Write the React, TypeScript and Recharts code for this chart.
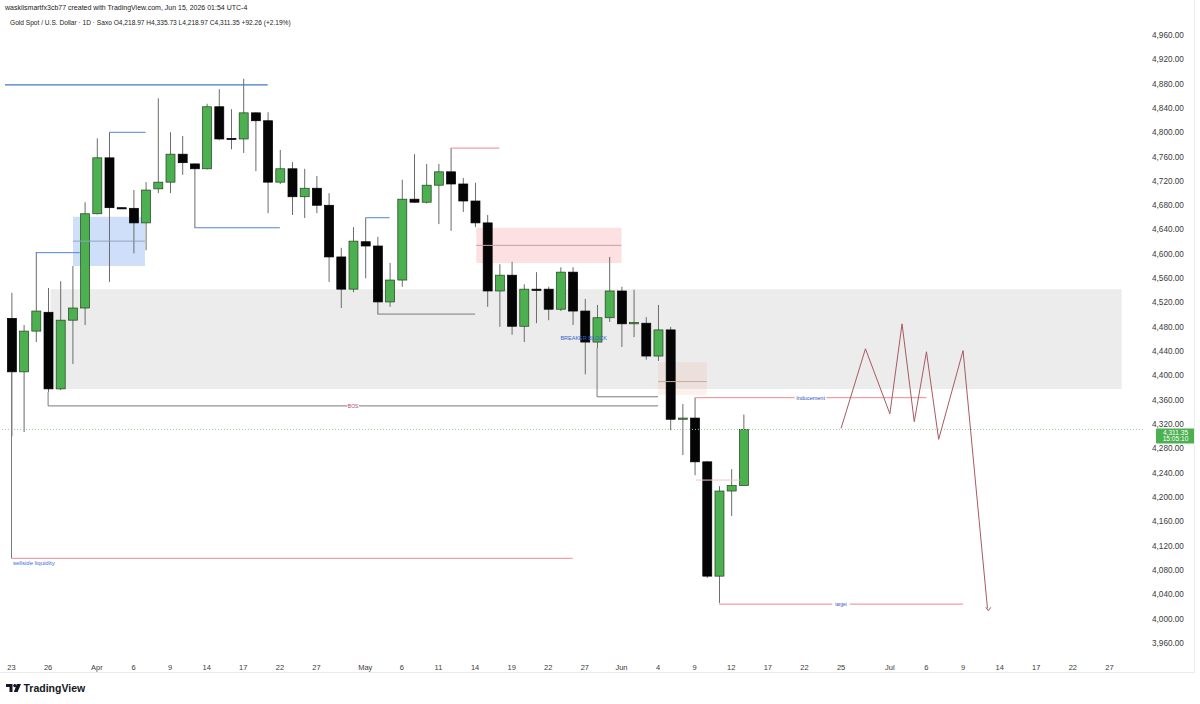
import React from 'react';
import { ComposedChart, Bar, Line, XAxis, YAxis, ReferenceArea, ReferenceLine, ReferenceDot } from 'recharts';

// Daily candles, index 0 = Mar 23 2026 (trading days)
const opens = [4494, 4406, 4473, 4504, 4378, 4491, 4511, 4666, 4758, 4676, 4675, 4651, 4707, 4718, 4764, 4748, 4740, 4842, 4790, 4789, 4832, 4819, 4718, 4740, 4694, 4708, 4680, 4595, 4542, 4620, 4613, 4521, 4557, 4690, 4685, 4713, 4735, 4715, 4687, 4651, 4539, 4565, 4481, 4542, 4542, 4509, 4570, 4506, 4455, 4495, 4539, 4485, 4486, 4432, 4475, 4328, 4330, 4258, 4070, 4210, 4218.97];
const highs = [4536, 4483, 4603, 4544, 4555, 4580, 4685, 4790, 4800, 4677, 4705, 4718, 4856, 4800, 4794, 4749, 4847, 4871, 4838, 4888, 4833, 4833, 4771, 4751, 4740, 4728, 4700, 4610, 4644, 4659, 4628, 4585, 4722, 4764, 4748, 4748, 4774, 4725, 4717, 4664, 4583, 4587, 4550, 4570, 4546, 4578, 4578, 4526, 4516, 4595, 4546, 4541, 4496, 4516, 4480, 4353, 4363, 4259, 4218, 4246, 4335.73];
const lows = [4300, 4307, 4455, 4373, 4376, 4419, 4483, 4665, 4554, 4674, 4601, 4606, 4700, 4700, 4730, 4643, 4739, 4787, 4772, 4766, 4736, 4667, 4715, 4664, 4659, 4667, 4554, 4511, 4537, 4560, 4501, 4513, 4546, 4684, 4683, 4649, 4638, 4669, 4644, 4513, 4480, 4467, 4455, 4486, 4491, 4506, 4483, 4402, 4445, 4488, 4447, 4463, 4426, 4424, 4310, 4269, 4236, 4067, 4026, 4169, 4218.97];
const closes = [4406, 4473, 4506, 4378, 4491, 4511, 4666, 4758, 4676, 4675, 4651, 4705, 4718, 4764, 4750, 4740, 4842, 4789, 4789, 4832, 4819, 4718, 4740, 4694, 4708, 4680, 4595, 4542, 4621, 4613, 4521, 4557, 4690, 4685, 4713, 4735, 4715, 4687, 4651, 4539, 4565, 4481, 4542, 4541, 4509, 4570, 4506, 4455, 4495, 4539, 4485, 4487, 4432, 4475, 4328, 4330, 4258, 4070, 4210, 4219, 4311.35];

const xTickIdx = [0, 3, 7, 10, 13, 16, 19, 22, 25, 29, 32, 35, 38, 41, 44, 47, 50, 53, 56, 59, 62, 65, 68, 72, 75, 78, 81, 84, 87, 90];
const xTickLabels = ['23', '26', 'Apr', '6', '9', '14', '17', '22', '27', 'May', '6', '11', '14', '19', '22', '27', 'Jun', '4', '9', '12', '17', '22', '25', 'Jul', '6', '9', '14', '17', '22', '27'];
const priceTicks = [3960, 4000, 4040, 4080, 4120, 4160, 4200, 4240, 4280, 4320, 4360, 4400, 4440, 4480, 4520, 4560, 4600, 4640, 4680, 4720, 4760, 4800, 4840, 4880, 4920, 4960];

// projected path
const projIdx = [68, 70, 72, 73, 74, 75, 76, 78, 80];
const projPrice = [4313, 4444, 4337, 4485, 4324, 4439, 4295, 4441, 4017];

const lastPrice = 4311.35;
const countdown = '15:05:10';

const candles = opens.map((o, i) => ({ i, range: [lows[i], highs[i]], o, h: highs[i], l: lows[i], c: closes[i] }));
const projData = projIdx.map((i, k) => ({ i, p: projPrice[k] }));
const tickLabelMap: Record<number, string> = {};
xTickIdx.forEach((v, k) => { tickLabelMap[v] = xTickLabels[k]; });

const FONT = '"Liberation Sans", Arial, sans-serif';
const BLUE = '#4f86d3';
const RED = '#f0868f';
const GREY = '#7b7b7b';

const Candle = (props: any) => {
  const { x, y, width, height, payload } = props;
  const { o, h, l, c } = payload;
  const top = Math.min(y, y + height);
  const hh = Math.abs(height);
  const span = h - l;
  const k = span > 0 ? hh / span : 0;
  const cx = x + width / 2;
  const yo = top + (h - o) * k;
  const yc = top + (h - c) * k;
  const up = c >= o;
  const bt = Math.min(yo, yc);
  const bh = Math.max(Math.abs(yc - yo), 1.2);
  return (
    <g>
      <line x1={cx} x2={cx} y1={top} y2={top + hh} stroke="#6b6b6b" strokeWidth={1} />
      <rect x={x} y={bt} width={width} height={bh} fill={up ? '#4caf50' : '#050505'} stroke={up ? '#24401f' : '#000'} strokeWidth={0.7} />
    </g>
  );
};

const textShape = (txt: string, color: string, size: number, anchor: string = 'middle', bg: boolean = false) => (p: any) => {
  const w = txt.length * size * 0.5;
  const bx = anchor === 'middle' ? p.cx - w / 2 - 2 : p.cx - 1;
  return (
    <g>
      {bg && <rect x={bx} y={p.cy - size / 2 - 1} width={w + 4} height={size + 2} fill="#fff" />}
      <text x={p.cx} y={p.cy} dy={size * 0.35} textAnchor={anchor} fontSize={size} fill={color} fontFamily={FONT}>{txt}</text>
    </g>
  );
};

const arrowShape = (p: any) => (
  <path d={`M${p.cx - 2.5},${p.cy - 3.5} L${p.cx},${p.cy} L${p.cx + 2.5},${p.cy - 3.5}`} stroke="#a85a62" fill="none" strokeWidth={1} />
);

const PriceTag = (props: any) => {
  const vb = props.viewBox || {};
  const x0 = (vb.x || 0) + (vb.width || 0) + 13;
  const y0 = vb.y || 0;
  return (
    <g>
      <rect x={x0} y={y0 - 1} width={39} height={15} fill="#4caf50" rx={1} />
      <text x={x0 + 19.5} y={y0 + 5.3} textAnchor="middle" fontSize={6.6} fill="#fff" fontFamily={FONT}>{lastPrice.toLocaleString('en-US', { minimumFractionDigits: 2 })}</text>
      <text x={x0 + 19.5} y={y0 + 12} textAnchor="middle" fontSize={6.6} fill="#fff" fontFamily={FONT}>{countdown}</text>
    </g>
  );
};

const seg = (x1: number, y1: number, x2: number, y2: number) => [{ x: x1, y: y1 }, { x: x2, y: y2 }];

export default function App() {
  return (
    <div style={{ position: 'absolute', left: 0, top: 0, width: 1200, height: 704, background: '#fff', overflow: 'hidden' }}>
      <ComposedChart width={1200} height={704} data={candles} margin={{ top: 0, right: 0, left: 0, bottom: 32 }}>
        <XAxis dataKey="i" type="number" domain={[-0.943, 92.75]} allowDataOverflow ticks={xTickIdx} interval={0}
          tickFormatter={(v: number) => tickLabelMap[v] ?? ''} height={17} axisLine={false} tickLine={false}
          tick={{ fontSize: 7.5, fill: '#3a3a3a', fontFamily: FONT }} tickMargin={4} />
        <YAxis orientation="right" type="number" domain={[3940.3, 5017.6]} allowDataOverflow ticks={priceTicks} interval={0}
          width={57} axisLine={false} tickLine={false} tickSize={0} tickMargin={9}
          tickFormatter={(v: number) => v.toLocaleString('en-US', { minimumFractionDigits: 2 })}
          tick={{ fontSize: 8.2, fill: '#3a3a3a', fontFamily: FONT }} />

        {/* zones */}
        <ReferenceArea x1={3.2} x2={91} y1={4378} y2={4542} fill="#ececec" fillOpacity={1} stroke="none" />
        <ReferenceArea x1={5.04} x2={10.94} y1={4580} y2={4661} fill="#cfdff9" fillOpacity={1} stroke="none" />
        <ReferenceArea x1={38.1} x2={50} y1={4585} y2={4643} fill="#fde0e2" fillOpacity={1} stroke="none" />
        <ReferenceArea x1={53} x2={57} y1={4368} y2={4422} fill="rgba(240,120,90,0.1)" fillOpacity={1} stroke="none" />
        <ReferenceLine segment={seg(5.04, 4621, 10.94, 4621)} stroke="#8ea3c2" strokeWidth={1} />
        <ReferenceLine segment={seg(38.1, 4614, 50, 4614)} stroke="#c9a0a4" strokeWidth={1} />
        <ReferenceLine segment={seg(53, 4390, 57, 4390)} stroke="#c4aaa0" strokeWidth={1} />

        {/* current price dotted */}
        <ReferenceLine y={lastPrice} stroke="#9ccc9c" strokeDasharray="1 2" strokeWidth={1} label={<PriceTag />} />

        {/* structure lines */}
        <ReferenceLine segment={seg(-0.53, 4878, 21, 4878)} stroke="#3f78c6" strokeWidth={1.2} />
        <ReferenceLine segment={seg(8, 4800, 11, 4800)} stroke={BLUE} strokeWidth={1} />
        <ReferenceLine segment={seg(2, 4602, 5.6, 4602)} stroke={BLUE} strokeWidth={1} />
        <ReferenceLine segment={seg(15, 4643, 22, 4643)} stroke={BLUE} strokeWidth={1} />
        <ReferenceLine segment={seg(29, 4659.5, 31, 4659.5)} stroke={BLUE} strokeWidth={1} />
        <ReferenceLine segment={seg(36, 4774, 40, 4774)} stroke={RED} strokeWidth={1} />
        <ReferenceLine segment={seg(30, 4501, 38, 4501)} stroke={GREY} strokeWidth={1} />
        <ReferenceLine segment={seg(3, 4373, 3, 4350)} stroke={GREY} strokeWidth={1} />
        <ReferenceLine segment={seg(3, 4350, 53, 4350)} stroke={GREY} strokeWidth={1} />
        <ReferenceLine segment={seg(48, 4445, 48, 4365)} stroke={GREY} strokeWidth={1} />
        <ReferenceLine segment={seg(48, 4365, 53, 4365)} stroke={GREY} strokeWidth={1} />
        <ReferenceLine segment={seg(0, 4406, 0, 4099.3)} stroke={GREY} strokeWidth={1} />
        <ReferenceLine segment={seg(0, 4099.3, 46, 4099.3)} stroke={RED} strokeWidth={1} />
        <ReferenceLine segment={seg(56, 4363.5, 75, 4363.5)} stroke={RED} strokeWidth={1} />
        <ReferenceLine segment={seg(58, 4024, 78, 4024)} stroke={RED} strokeWidth={1} />
        <ReferenceLine segment={seg(56.1, 4228, 59.7, 4228)} stroke="#f6c3c7" strokeWidth={1} />

        <ReferenceDot x={46.9} y={4461.6} r={1} shape={textShape('BREAKER BLOCK', '#2f5fd0', 5.5)} />

        <Bar dataKey="range" barSize={9} shape={<Candle />} isAnimationActive={false} />

        <Line data={projData} dataKey="p" stroke="#a85a62" strokeWidth={1} dot={false} activeDot={false} isAnimationActive={false} type="linear" />
        <ReferenceDot x={80.07} y={4013} r={1} shape={arrowShape} />

        <ReferenceDot x={28} y={4350} r={1} shape={textShape('BOS', '#b04a5a', 5, 'middle', true)} />
        <ReferenceDot x={65.5} y={4363.5} r={1} shape={textShape('Inducement', '#2f4fc0', 5.5, 'middle', true)} />
        <ReferenceDot x={68} y={4024} r={1} shape={textShape('target', '#2f4fc0', 4.5, 'middle', true)} />
        <ReferenceDot x={0.12} y={4091.6} r={1} shape={textShape('sellside liquidity', '#3b6fe0', 6, 'start')} />
      </ComposedChart>

      <div style={{ position: 'absolute', left: 5, top: 4, fontFamily: FONT, fontSize: 7, color: '#222', whiteSpace: 'pre' }}>
        waskiismartfx3cb77 created with TradingView.com, Jun 15, 2026 01:54 UTC-4
      </div>
      <div style={{ position: 'absolute', left: 10, top: 19, fontFamily: FONT, fontSize: 6.6, color: '#222', whiteSpace: 'pre' }}>
        {'Gold Spot / U.S. Dollar · 1D · Saxo O4,218.97 H4,335.73 L4,218.97 C4,311.35 +92.26 (+2.19%)'}
      </div>
      <div style={{ position: 'absolute', left: 1194, top: 0, width: 1, height: 672, background: '#ececec' }} />
      <div style={{ position: 'absolute', left: 0, top: 672, width: 1195, height: 1, background: '#ececec' }} />
      <svg style={{ position: 'absolute', left: 0, top: 676 }} width={120} height={24}>
        <path d="M6 8 H12.5 V16 H9.5 V11 H6 Z" fill="#131722" />
        <circle cx={14.8} cy={9.6} r={1.6} fill="#131722" />
        <path d="M16.8 8 H21 L17.6 16 H13.8 Z" fill="#131722" />
        <text x={23.5} y={16} fontSize={10.5} fontWeight={700} fill="#131722" fontFamily={FONT}>TradingView</text>
      </svg>
    </div>
  );
}
